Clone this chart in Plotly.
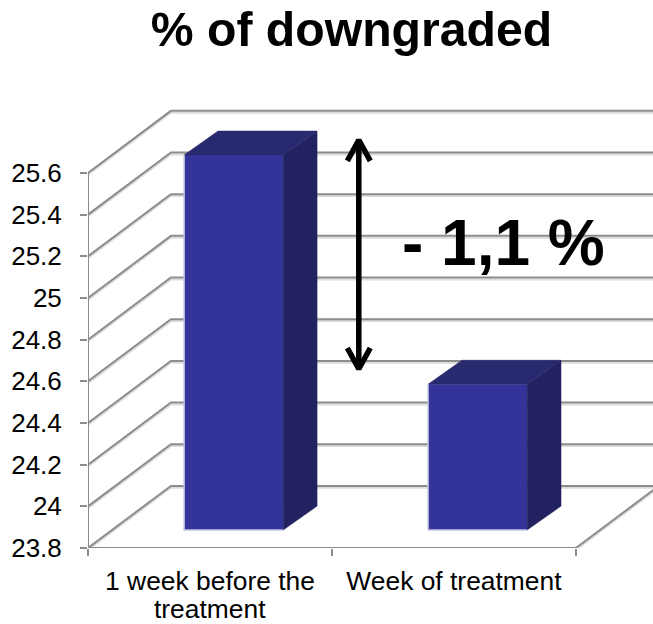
import plotly.graph_objects as go

# values
categories = ["1 week before the", "Week of treatment"]
category_second_line = ["treatment", ""]
downgraded = [25.6, 24.5]
y_ticks = [23.8, 24, 24.2, 24.4, 24.6, 24.8, 25, 25.2, 25.4, 25.6]
y_labels = ["23.8", "24", "24.2", "24.4", "24.6", "24.8", "25", "25.2", "25.4", "25.6"]

Y_MIN = 23.8
# fake 3D: how far the back wall is shifted from the front plane, in axis units
DEPTH_X = 0.34
DEPTH_Y = 0.298
# the bars stand a bit inside the floor
BAR_SHIFT_X = 0.097
BAR_SHIFT_Y = 0.086
BAR_WIDTH = 0.406
BAR_DEPTH_X = 0.139
BAR_DEPTH_Y = 0.115

FRONT = "#333399"
TOP = "#29296f"
SIDE = "#222260"
EDGE = "#c4c4e4"
GRID = "#8c8c8c"
SHADOW = "#dcdcdc"

X_MAX = 2.316
Y_MAX = 25.926

fig = go.Figure()

# front faces
bar_x = [i + 0.5 + BAR_SHIFT_X for i in range(len(downgraded))]
fig.add_trace(go.Bar(
    x=bar_x,
    y=[v - Y_MIN for v in downgraded],
    base=Y_MIN + BAR_SHIFT_Y,
    width=BAR_WIDTH,
    marker=dict(color=FRONT, line=dict(width=0)),
))

# side and top faces
for cx, v in zip(bar_x, downgraded):
    left = cx - BAR_WIDTH / 2
    right = cx + BAR_WIDTH / 2
    bottom = Y_MIN + BAR_SHIFT_Y
    top = v + BAR_SHIFT_Y
    fig.add_trace(go.Scatter(
        x=[right, right + BAR_DEPTH_X, right + BAR_DEPTH_X, right, right],
        y=[bottom, bottom + BAR_DEPTH_Y, top + BAR_DEPTH_Y, top, bottom],
        mode="lines", fill="toself", fillcolor=SIDE, line=dict(color=SIDE, width=0.5),
    ))
    fig.add_trace(go.Scatter(
        x=[left, left + BAR_DEPTH_X, right + BAR_DEPTH_X, right, left],
        y=[top, top + BAR_DEPTH_Y, top + BAR_DEPTH_Y, top, top],
        mode="lines", fill="toself", fillcolor=TOP, line=dict(color=TOP, width=0.5),
    ))
    # pale edge on the left and bottom of the front face
    fig.add_trace(go.Scatter(
        x=[left, left, right], y=[top, bottom, bottom],
        mode="lines", line=dict(color=EDGE, width=1.5),
    ))

# walls: grid lines go back along the side wall then across the back wall
def grid_line(xs, ys):
    for color, off, w in [(SHADOW, -0.009, 2), (GRID, 0, 2)]:
        path = "M " + " L ".join(f"{x} {y + off}" for x, y in zip(xs, ys))
        fig.add_shape(type="path", path=path, xref="x", yref="y",
                      line=dict(color=color, width=w), layer="below")

for t in y_ticks:
    grid_line([0, DEPTH_X, X_MAX], [t, t + DEPTH_Y, t + DEPTH_Y])
grid_line([0, 2, 2 + DEPTH_X], [Y_MIN, Y_MIN, Y_MIN + DEPTH_Y])
grid_line([0, 0], [Y_MIN, y_ticks[-1]])

# double headed arrow
ax = 1.11
arrow_top = 25.758
arrow_bot = 24.66
head_x = 0.047
head_y = 0.1
fig.add_trace(go.Scatter(
    x=[ax, ax, None, ax - head_x, ax, ax + head_x, None, ax - head_x, ax, ax + head_x],
    y=[arrow_bot, arrow_top, None, arrow_top - head_y, arrow_top, arrow_top - head_y,
       None, arrow_bot + head_y, arrow_bot, arrow_bot + head_y],
    mode="lines", line=dict(color="black", width=5.5),
))

fig.add_annotation(x=1.705, y=25.262, xref="x", yref="y", text="<b>- 1,1 %</b>",
                   showarrow=False, font=dict(size=64, color="black"))

# plotly's <br> spacing is too wide here, so the wrapped word is its own text
for i, word in enumerate(category_second_line):
    if word:
        fig.add_annotation(x=i + 0.5, y=-0.138, xref="x", yref="paper", text=word,
                           showarrow=False, yanchor="middle", font=dict(size=26.4))

fig.update_layout(
    width=653, height=624,
    margin=dict(l=88, r=0, t=105, b=76),
    paper_bgcolor="white", plot_bgcolor="white",
    showlegend=False,
    font=dict(family="Liberation Sans, Arial, sans-serif", color="black", size=26),
    title=dict(text="<b>% of downgraded</b>", font=dict(size=48.2), x=0.5383, xanchor="center",
               y=0.9535, yanchor="middle"),
    xaxis=dict(
        range=[0, X_MAX], tickvals=[0.5, 1.5], ticktext=categories, ticks="",
        showgrid=False, zeroline=False, showline=False, ticklabelstandoff=15,
        tickfont=dict(size=26.4), automargin=False,
        minor=dict(tickvals=[0, 1, 2], ticks="outside", ticklen=7, tickwidth=2, tickcolor=GRID),
    ),
    yaxis=dict(
        range=[Y_MIN, Y_MAX], tickvals=y_ticks, ticktext=y_labels, ticks="outside",
        ticklen=7, tickwidth=2, tickcolor=GRID, showgrid=False, zeroline=False, showline=False,
        ticklabelstandoff=13, automargin=False,
    ),
)

# drop the page's default 8px margin so the figure fills the window
fig.write_html("out.html", config={"displayModeBar": False},
               post_script="document.body.style.margin = '0';")
